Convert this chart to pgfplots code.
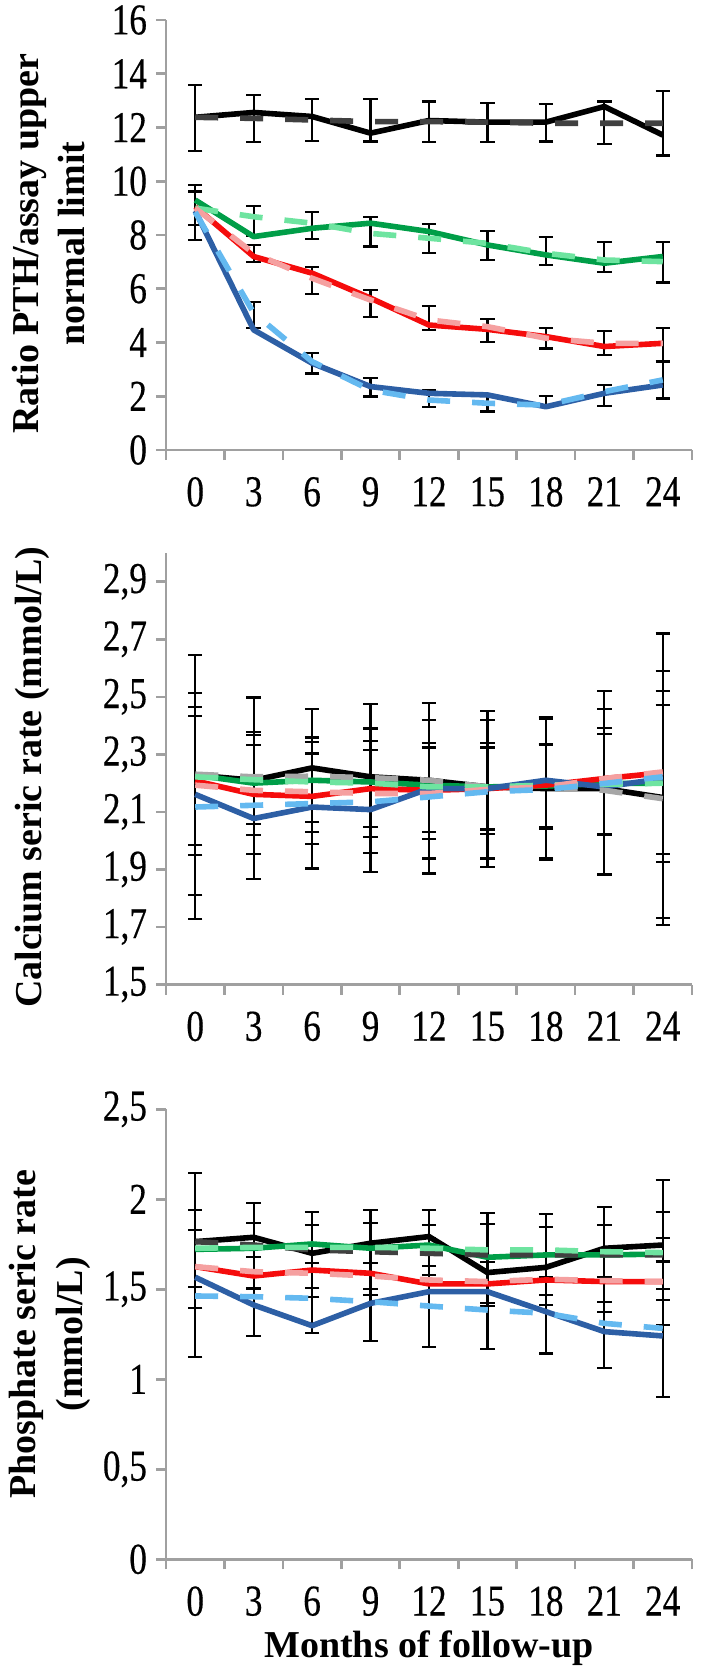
\documentclass[border=0pt]{standalone}
\usepackage{fontspec}
\setmainfont{Liberation Serif}
\newfontfamily\tickfont{Liberation Serif}[FakeStretch=0.8, FakeBold=0.4]
\usepackage{pgfplots}
\usepackage{pgfplotstable}
\pgfplotsset{compat=1.18}

\definecolor{cgreen}{RGB}{0,158,72}
\definecolor{cgreenl}{RGB}{110,228,160}
\definecolor{cred}{RGB}{245,12,12}
\definecolor{credl}{RGB}{245,160,160}
\definecolor{cblue}{RGB}{45,95,165}
\definecolor{cbluel}{RGB}{100,185,240}
\definecolor{cgrayd}{RGB}{64,64,64}
\definecolor{cgrayl}{RGB}{166,166,166}
\definecolor{caxis}{RGB}{160,160,160}

% ---------- PTH ratio ----------
\pgfplotstableread{
x bk bkd gr grd rd rdd bl bld
0 12.38 12.38 9.30 9.00 9.05 9.00 8.90 8.85
1 12.56 12.34 7.94 8.68 7.20 7.32 4.47 5.10
2 12.41 12.28 8.25 8.44 6.58 6.39 3.23 3.29
3 11.79 12.22 8.44 8.06 5.65 5.58 2.36 2.23
4 12.26 12.22 8.13 7.88 4.65 4.84 2.11 1.86
5 12.20 12.20 7.63 7.69 4.49 4.59 2.05 1.74
6 12.20 12.16 7.26 7.32 4.22 4.16 1.61 1.67
7 12.78 12.16 6.95 7.07 3.85 3.97 2.11 2.17
8 11.72 12.16 7.20 7.01 3.97 3.97 2.42 2.61
}\pthlines
\pgfplotstableread{
x lo hi
0 11.13 13.59
0 7.82 9.86
0 8.37 9.62
1 11.45 13.21
1 7.98 9.08
1 7.01 7.63
1 4.53 5.52
2 11.50 13.05
2 7.84 8.87
2 5.81 6.80
2 2.85 3.60
3 11.48 13.05
3 7.57 8.66
3 4.96 5.96
3 1.99 2.67
4 11.45 12.97
4 7.32 8.41
4 4.47 5.36
4 1.59 2.23
5 11.45 12.90
5 7.07 8.16
5 4.03 4.86
5 1.43 2.05
6 11.48 12.87
6 6.89 7.92
6 3.78 4.53
6 1.59 2.01
7 11.38 12.97
7 6.61 7.75
7 3.54 4.44
7 1.64 2.42
8 10.96 13.37
8 6.23 7.75
8 3.29 4.53
8 1.92 3.29
}\ptherr

% ---------- Calcium ----------
\pgfplotstableread{
x bk bkd gr grd rd rdd bl bld
0 2.228 2.231 2.228 2.222 2.208 2.193 2.161 2.117
1 2.210 2.222 2.200 2.212 2.161 2.175 2.077 2.123
2 2.253 2.224 2.210 2.204 2.154 2.170 2.117 2.129
3 2.222 2.219 2.204 2.200 2.181 2.164 2.108 2.135
4 2.210 2.210 2.193 2.187 2.175 2.164 2.181 2.152
5 2.187 2.187 2.187 2.187 2.181 2.178 2.181 2.170
6 2.181 2.187 2.190 2.193 2.193 2.187 2.210 2.178
7 2.181 2.175 2.199 2.196 2.216 2.216 2.187 2.199
8 2.150 2.146 2.200 2.200 2.236 2.239 2.216 2.222
}\calines
\pgfplotstableread{
x lo hi
0 1.729 2.645
0 1.810 2.514
0 1.949 2.465
0 1.984 2.433
1 1.868 2.498
1 1.955 2.378
1 2.019 2.367
1 2.059 2.332
2 1.903 2.457
2 1.988 2.359
2 2.030 2.343
2 2.065 2.303
3 1.891 2.474
3 1.957 2.390
3 2.013 2.347
3 2.048 2.314
4 1.886 2.479
4 1.938 2.419
4 2.007 2.340
4 2.030 2.324
5 1.909 2.450
5 1.938 2.419
5 2.024 2.340
5 2.039 2.324
6 1.934 2.430
6 1.940 2.425
6 2.042 2.336
6 2.046 2.332
7 1.880 2.521
7 1.884 2.457
7 2.019 2.393
7 2.023 2.370
8 1.708 2.720
8 1.730 2.590
8 1.926 2.521
8 1.955 2.471
}\caerr

% ---------- Phosphate ----------
\pgfplotstableread{
x bk bkd gr grd rd rdd bl bld
0 1.765 1.765 1.722 1.728 1.626 1.626 1.567 1.463
1 1.789 1.746 1.728 1.733 1.574 1.598 1.413 1.459
2 1.700 1.719 1.752 1.733 1.607 1.589 1.298 1.450
3 1.756 1.709 1.728 1.733 1.589 1.574 1.422 1.431
4 1.793 1.700 1.746 1.728 1.530 1.552 1.487 1.407
5 1.593 1.691 1.678 1.719 1.530 1.543 1.487 1.385
6 1.622 1.691 1.691 1.719 1.552 1.556 1.376 1.367
7 1.728 1.691 1.691 1.709 1.543 1.548 1.265 1.311
8 1.746 1.691 1.696 1.704 1.543 1.543 1.241 1.283
}\phlines
\pgfplotstableread{
x lo hi
0 1.394 2.144
0 1.515 1.941
0 1.126 1.830
1 1.506 1.981
1 1.241 1.870
1 1.500 1.678
2 1.459 1.931
2 1.506 1.857
2 1.256 1.644
3 1.469 1.941
3 1.215 1.867
3 1.500 1.644
4 1.580 1.941
4 1.630 1.857
4 1.181 1.783
5 1.407 1.926
5 1.167 1.863
5 1.422 1.650
6 1.469 1.919
6 1.144 1.844
6 1.413 1.570
7 1.431 1.959
7 1.061 1.857
7 1.376 1.570
8 1.302 2.107
8 1.441 1.931
8 0.904 1.783
8 1.500 1.654
}\pherr

\pgfplotsset{
  panel/.style={
    scale only axis, width=263pt,
    anchor=north west,
    xmin=-0.5, xmax=8.5,
    xtick={-0.5,0.5,1.5,2.5,3.5,4.5,5.5,6.5,7.5,8.5},
    xticklabels={0,3,6,9,12,15,18,21,24,{}},
    xticklabel style={xshift=14.61pt, yshift=-5pt},
    axis x line*=bottom, axis y line*=left,
    axis line style={caxis, line width=1.3pt, -},
    tick style={caxis, line width=1.3pt},
    tick align=outside, major tick length=5pt,
    tick label style={font=\tickfont\fontsize{22}{24}\selectfont},
    /pgf/number format/assume math mode=true,
    yticklabel style={xshift=-1pt},
    ylabel style={font=\bfseries\fontsize{19}{20}\selectfont, align=center, anchor=center},
    xlabel style={font=\bfseries\fontsize{19}{21}\selectfont},
    clip=false,
  },
  sl/.style={line width=2.8pt, solid, mark=none, line join=round},
  dl/.style={line width=2.8pt, mark=none, dash pattern=on 11.5pt off 11pt},
  eb/.style={draw=none, mark=none, forget plot,
    error bars/.cd, y dir=both, y explicit,
    error bar style={draw=black, line width=1.1pt, solid},
    error mark=-,
    error mark options={rotate=90, draw=black, line width=1.1pt, mark size=3.6pt, solid}},
}

\begin{document}
\begin{tikzpicture}
\useasboundingbox (0,0) rectangle (352.5pt,-836pt);

% ===== Panel 1 =====
\begin{axis}[panel, at={(83pt,-10pt)}, height=215pt,
  ymin=0, ymax=16, ytick={0,2,4,6,8,10,12,14,16},
  yticklabels={0,2,4,6,8,10,12,14,16},
  ylabel={Ratio PTH/assay upper\\[3.3pt]normal limit},
  ylabel style={at={(axis description cs:-0.2234,0.48)}},
]
\addplot[eb] table[x=x, y expr={(\thisrow{lo}+\thisrow{hi})/2}, y error plus expr={(\thisrow{hi}-\thisrow{lo})/2}, y error minus expr={(\thisrow{hi}-\thisrow{lo})/2}] {\ptherr};
\addplot[sl, black] table[x=x, y=bk] {\pthlines};
\addplot[sl, cgreen] table[x=x, y=gr] {\pthlines};
\addplot[sl, cred] table[x=x, y=rd] {\pthlines};
\addplot[sl, cblue] table[x=x, y=bl] {\pthlines};
\addplot[dl, cgrayd] table[x=x, y=bkd] {\pthlines};
\addplot[dl, cgreenl] table[x=x, y=grd] {\pthlines};
\addplot[dl, credl] table[x=x, y=rdd] {\pthlines};
\addplot[dl, cbluel] table[x=x, y=bld] {\pthlines};
\end{axis}

% ===== Panel 2 =====
\begin{axis}[panel, at={(83pt,-276.5pt)}, height=215.75pt,
  ymin=1.5, ymax=3.0, ytick={1.5,1.7,1.9,2.1,2.3,2.5,2.7,2.9},
  yticklabels={{1,5},{1,7},{1,9},{2,1},{2,3},{2,5},{2,7},{2,9}},
  ylabel={Calcium seric rate (mmol/L)},
  ylabel style={at={(axis description cs:-0.2548,0.48)}},
]
\addplot[eb] table[x=x, y expr={(\thisrow{lo}+\thisrow{hi})/2}, y error plus expr={(\thisrow{hi}-\thisrow{lo})/2}, y error minus expr={(\thisrow{hi}-\thisrow{lo})/2}] {\caerr};
\addplot[sl, black] table[x=x, y=bk] {\calines};
\addplot[sl, cgreen] table[x=x, y=gr] {\calines};
\addplot[sl, cred] table[x=x, y=rd] {\calines};
\addplot[sl, cblue] table[x=x, y=bl] {\calines};
\addplot[dl, cgrayl] table[x=x, y=bkd] {\calines};
\addplot[dl, cgreenl] table[x=x, y=grd] {\calines};
\addplot[dl, credl] table[x=x, y=rdd] {\calines};
\addplot[dl, cbluel] table[x=x, y=bld] {\calines};
\end{axis}

% ===== Panel 3 =====
\begin{axis}[panel, at={(83pt,-554.65pt)}, height=225pt,
  ymin=0, ymax=2.5, ytick={0,0.5,1,1.5,2,2.5},
  yticklabels={0,{0,5},1,{1,5},2,{2,5}},
  ylabel={Phosphate seric rate\\[3.3pt](mmol/L)},
  ylabel style={at={(axis description cs:-0.2205,0.5)}},
  xlabel={Months of follow-up},
  xlabel style={at={(axis description cs:0.5,0)}, anchor=center, yshift=-44.5pt},
]
\addplot[eb] table[x=x, y expr={(\thisrow{lo}+\thisrow{hi})/2}, y error plus expr={(\thisrow{hi}-\thisrow{lo})/2}, y error minus expr={(\thisrow{hi}-\thisrow{lo})/2}] {\pherr};
\addplot[sl, black] table[x=x, y=bk] {\phlines};
\addplot[sl, cgreen] table[x=x, y=gr] {\phlines};
\addplot[sl, cred] table[x=x, y=rd] {\phlines};
\addplot[sl, cblue] table[x=x, y=bl] {\phlines};
\addplot[dl, cgrayd] table[x=x, y=bkd] {\phlines};
\addplot[dl, cgreenl] table[x=x, y=grd] {\phlines};
\addplot[dl, credl] table[x=x, y=rdd] {\phlines};
\addplot[dl, cbluel] table[x=x, y=bld] {\phlines};
\end{axis}
\end{tikzpicture}
\end{document}
